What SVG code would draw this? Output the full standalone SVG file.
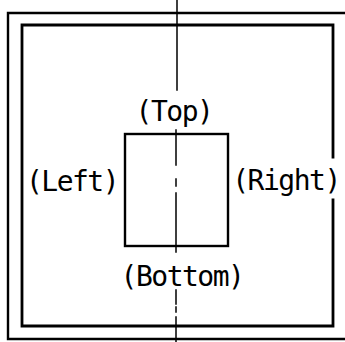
<svg xmlns="http://www.w3.org/2000/svg" width="345" height="342" viewBox="0 0 345 342">
<style>
.ln{fill:none;stroke:#000;stroke-linecap:square}
.lbl{font-family:"DejaVu Sans Mono","Liberation Mono",monospace;font-size:28px;letter-spacing:-1.5px;fill:#000;text-anchor:middle}
</style>
<rect width="345" height="342" fill="#fff"/>
<g id="outer-frame">
<path class="ln" stroke-width="2.4" d="M350,13 H8 V339 H350"/>
</g>
<g id="inner-frame">
<path class="ln" stroke-width="2.8" d="M333,157 V25 H22 V326 H333 V200"/>
</g>
<g id="part">
<rect class="ln" stroke-width="2.4" x="125" y="134" width="103" height="112"/>
</g>
<g id="connectors">
<path class="ln" stroke-width="1.5" stroke-linecap="butt" d="M177,0 V90 M176,130 V165 M176,179 V186 M176,193 V252 M176,290 V304 M176,307 V312 M176,317 V342"/>
</g>
<g id="labels">
<text class="lbl" x="174" y="121">(Top)</text>
<text class="lbl" x="72" y="191">(Left)</text>
<text class="lbl" x="286" y="190">(Right)</text>
<text class="lbl" x="182" y="286">(Bottom)</text>
</g>
</svg>
